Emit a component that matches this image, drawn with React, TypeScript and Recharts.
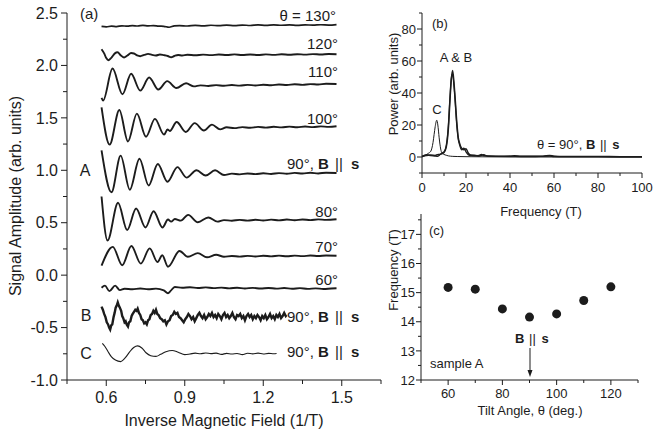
import React from 'react';
import { LineChart, Line, XAxis, YAxis, ScatterChart, Scatter } from 'recharts';

const FONT = '"Liberation Sans", Arial, Helvetica, sans-serif';
const INK = '#1c1c1c';
const W = 653;
const H = 435;

type Pt = { x: number; y: number };
const toPts = (arr: number[][]): Pt[] => arr.map(([x, y]) => ({ x, y }));

// ---------- Panel (a): signal traces (x = inverse field 1/T, y = amplitude) ----------
const trace130 = toPts([[0.582,2.372],[0.60,2.368],[0.62,2.375],[0.64,2.371],[0.66,2.378],[0.68,2.374],[0.70,2.380],[0.72,2.376],[0.74,2.382],[0.76,2.377],[0.78,2.380],[0.80,2.375],[0.82,2.373],[0.84,2.364],[0.86,2.377],[0.88,2.380],[0.91,2.376],[0.94,2.382],[0.97,2.378],[1.00,2.383],[1.03,2.379],[1.06,2.384],[1.09,2.380],[1.12,2.385],[1.15,2.381],[1.18,2.386],[1.21,2.382],[1.24,2.387],[1.27,2.383],[1.30,2.386],[1.33,2.382],[1.36,2.387],[1.39,2.384],[1.42,2.388],[1.45,2.385],[1.48,2.390]]);
const trace120 = toPts([[0.582,2.155],[0.592,2.115],[0.600,2.070],[0.609,2.050],[0.620,2.075],[0.633,2.115],[0.643,2.125],[0.656,2.095],[0.668,2.075],[0.681,2.095],[0.695,2.118],[0.706,2.114],[0.718,2.095],[0.730,2.088],[0.745,2.100],[0.760,2.110],[0.775,2.100],[0.790,2.095],[0.805,2.104],[0.820,2.098],[0.835,2.090],[0.848,2.078],[0.860,2.090],[0.875,2.100],[0.890,2.095],[0.910,2.102],[0.940,2.097],[0.970,2.103],[1.00,2.098],[1.03,2.104],[1.06,2.099],[1.09,2.105],[1.12,2.100],[1.15,2.104],[1.18,2.100],[1.21,2.105],[1.24,2.101],[1.27,2.106],[1.30,2.102],[1.33,2.107],[1.36,2.103],[1.39,2.108],[1.42,2.104],[1.45,2.109],[1.48,2.107]]);
const trace110 = toPts([[0.582,1.690],[0.588,1.665],[0.624,1.970],[0.662,1.725],[0.695,1.920],[0.730,1.760],[0.764,1.885],[0.799,1.770],[0.833,1.850],[0.868,1.785],[0.905,1.830],[0.935,1.800],[0.96,1.810],[0.99,1.804],[1.02,1.812],[1.05,1.806],[1.08,1.813],[1.11,1.807],[1.14,1.815],[1.17,1.809],[1.20,1.816],[1.23,1.811],[1.26,1.818],[1.29,1.813],[1.32,1.820],[1.35,1.815],[1.38,1.822],[1.41,1.818],[1.44,1.825],[1.48,1.823]]);
const trace100 = toPts([[0.582,1.600],[0.613,1.245],[0.650,1.575],[0.683,1.275],[0.717,1.540],[0.752,1.320],[0.786,1.490],[0.821,1.340],[0.834,1.390],[0.843,1.375],[0.869,1.460],[0.904,1.365],[0.938,1.450],[0.973,1.380],[1.004,1.435],[1.035,1.390],[1.06,1.410],[1.09,1.402],[1.12,1.412],[1.15,1.405],[1.18,1.414],[1.21,1.407],[1.24,1.415],[1.27,1.409],[1.30,1.416],[1.33,1.410],[1.36,1.417],[1.39,1.412],[1.42,1.419],[1.45,1.414],[1.48,1.420]]);
const traceA90 = toPts([[0.582,1.190],[0.620,0.790],[0.655,1.140],[0.690,0.815],[0.727,1.110],[0.762,0.855],[0.797,1.060],[0.834,0.890],[0.872,1.030],[0.907,0.930],[0.945,1.000],[0.980,0.950],[1.016,1.000],[1.050,0.955],[1.08,0.968],[1.11,0.961],[1.14,0.970],[1.17,0.963],[1.20,0.972],[1.23,0.965],[1.26,0.973],[1.29,0.967],[1.32,0.975],[1.35,0.969],[1.38,0.976],[1.41,0.970],[1.44,0.977],[1.48,0.974]]);
const trace80 = toPts([[0.582,0.750],[0.605,0.330],[0.645,0.690],[0.680,0.430],[0.714,0.635],[0.750,0.455],[0.781,0.610],[0.815,0.455],[0.836,0.530],[0.848,0.510],[0.862,0.535],[0.885,0.520],[0.913,0.575],[0.950,0.505],[0.990,0.550],[1.025,0.510],[1.05,0.525],[1.08,0.519],[1.11,0.527],[1.14,0.520],[1.17,0.528],[1.20,0.521],[1.23,0.529],[1.26,0.522],[1.29,0.530],[1.32,0.524],[1.35,0.531],[1.38,0.525],[1.41,0.532],[1.44,0.527],[1.48,0.533]]);
const trace70 = toPts([[0.582,0.090],[0.625,0.270],[0.661,0.095],[0.696,0.278],[0.732,0.110],[0.766,0.255],[0.796,0.125],[0.814,0.190],[0.836,0.080],[0.880,0.230],[0.912,0.175],[0.950,0.210],[0.985,0.170],[1.020,0.195],[1.050,0.175],[1.08,0.183],[1.11,0.177],[1.14,0.184],[1.17,0.178],[1.20,0.185],[1.23,0.179],[1.26,0.186],[1.29,0.180],[1.32,0.186],[1.35,0.181],[1.38,0.187],[1.41,0.182],[1.44,0.188],[1.48,0.185]]);
const trace60 = toPts([[0.582,-0.120],[0.595,-0.100],[0.612,-0.152],[0.634,-0.100],[0.652,-0.143],[0.670,-0.130],[0.700,-0.135],[0.730,-0.127],[0.760,-0.134],[0.790,-0.129],[0.820,-0.145],[0.836,-0.172],[0.846,-0.150],[0.862,-0.113],[0.890,-0.120],[0.920,-0.116],[0.950,-0.123],[0.980,-0.117],[1.01,-0.124],[1.04,-0.119],[1.07,-0.126],[1.10,-0.120],[1.13,-0.127],[1.16,-0.121],[1.19,-0.128],[1.22,-0.122],[1.25,-0.129],[1.28,-0.123],[1.31,-0.130],[1.34,-0.124],[1.37,-0.131],[1.40,-0.126],[1.43,-0.132],[1.46,-0.127],[1.48,-0.125]]);
const traceB90 = toPts([[0.582,-0.30],[0.587,-0.33],[0.592,-0.37],[0.597,-0.40],[0.602,-0.45],[0.607,-0.47],[0.611,-0.50],[0.615,-0.52],[0.619,-0.48],[0.623,-0.47],[0.628,-0.40],[0.632,-0.36],[0.636,-0.31],[0.640,-0.29],[0.644,-0.26],[0.648,-0.29],[0.652,-0.31],[0.657,-0.34],[0.661,-0.39],[0.665,-0.41],[0.670,-0.45],[0.674,-0.44],[0.678,-0.47],[0.683,-0.49],[0.687,-0.45],[0.692,-0.44],[0.697,-0.39],[0.701,-0.37],[0.706,-0.35],[0.711,-0.33],[0.716,-0.34],[0.720,-0.32],[0.725,-0.36],[0.730,-0.38],[0.735,-0.42],[0.740,-0.43],[0.745,-0.46],[0.750,-0.45],[0.755,-0.47],[0.760,-0.43],[0.765,-0.42],[0.770,-0.38],[0.775,-0.37],[0.780,-0.34],[0.785,-0.36],[0.790,-0.33],[0.795,-0.37],[0.800,-0.38],[0.806,-0.41],[0.812,-0.42],[0.818,-0.44],[0.824,-0.43],[0.830,-0.47],[0.836,-0.44],[0.842,-0.43],[0.848,-0.39],[0.854,-0.38],[0.860,-0.35],[0.866,-0.37],[0.872,-0.36],[0.878,-0.40],[0.884,-0.41],[0.890,-0.43],[0.896,-0.45],[0.902,-0.42],[0.908,-0.40],[0.914,-0.37],[0.920,-0.39],[0.926,-0.42],[0.932,-0.40],[0.938,-0.44],[0.944,-0.41],[0.950,-0.38],[0.956,-0.36],[0.962,-0.39],[0.968,-0.41],[0.974,-0.38],[0.980,-0.42],[0.986,-0.40],[0.992,-0.37],[0.998,-0.39],[1.004,-0.36],[1.010,-0.40],[1.016,-0.38],[1.022,-0.41],[1.028,-0.37],[1.034,-0.39],[1.040,-0.42],[1.046,-0.38],[1.052,-0.36],[1.058,-0.40],[1.064,-0.38],[1.070,-0.41],[1.076,-0.39],[1.082,-0.36],[1.088,-0.40],[1.094,-0.42],[1.100,-0.38],[1.106,-0.39],[1.112,-0.37],[1.118,-0.41],[1.124,-0.39],[1.130,-0.43],[1.136,-0.39],[1.142,-0.37],[1.148,-0.40],[1.154,-0.38],[1.160,-0.42],[1.166,-0.39],[1.172,-0.41],[1.178,-0.38],[1.184,-0.40],[1.190,-0.43],[1.196,-0.39],[1.202,-0.41],[1.208,-0.38],[1.214,-0.42],[1.220,-0.40],[1.226,-0.37],[1.232,-0.41],[1.238,-0.39],[1.244,-0.42],[1.250,-0.38],[1.256,-0.40],[1.262,-0.37],[1.268,-0.41],[1.274,-0.39],[1.280,-0.36],[1.286,-0.39],[1.289,-0.38]]);
const traceC90 = toPts([[0.585,-0.650],[0.595,-0.680],[0.607,-0.730],[0.620,-0.780],[0.635,-0.810],[0.655,-0.825],[0.672,-0.790],[0.690,-0.730],[0.705,-0.690],[0.720,-0.675],[0.736,-0.695],[0.752,-0.740],[0.770,-0.768],[0.790,-0.775],[0.808,-0.755],[0.828,-0.730],[0.852,-0.718],[0.875,-0.735],[0.900,-0.758],[0.920,-0.752],[0.94,-0.744],[0.96,-0.750],[0.98,-0.742],[1.00,-0.748],[1.02,-0.744],[1.04,-0.756],[1.06,-0.746],[1.08,-0.752],[1.10,-0.747],[1.12,-0.758],[1.14,-0.745],[1.16,-0.751],[1.18,-0.744],[1.20,-0.752],[1.22,-0.746],[1.24,-0.750],[1.251,-0.748]]);

// ---------- Panel (b): power spectra (x = frequency T, y = power) ----------
const specA = toPts([[0,0.5],[2,1.0],[4,1.2],[6,1.0],[7,1.4],[8,1.6],[9,2.0],[10,2.8],[11,6],[12,18],[12.7,35],[13.3,48],[13.9,54],[14.5,47],[15,38],[15.8,22],[16.5,12],[17,9],[18,5.5],[19,4.5],[20,5.2],[21,2.5],[22,1.2],[24,0.8],[26,1.0],[27,1.6],[28,0.9],[30,0.6],[35,0.5],[40,0.4],[42,0.8],[45,0.4],[50,0.4],[55,0.5],[58,1.0],[60,0.5],[65,0.3],[70,0.3],[80,0.3],[90,0.2],[100,0.2]]);
const specB = toPts([[0,0.3],[2,1.5],[4,0.8],[6,0.6],[7,0.4],[8,1.2],[9,2.4],[10,3.2],[11,7],[12,20],[12.7,37],[13.3,49],[13.9,52],[14.5,45],[15,36],[15.8,20],[16.5,11],[17,8],[18,4.5],[19,5.5],[20,3.2],[21,1.5],[22,1.0],[24,1.2],[26,0.6],[27,1.0],[28,1.4],[30,0.5],[35,0.4],[40,0.5],[45,0.3],[50,0.3],[58,0.6],[60,0.3],[70,0.2],[80,0.2],[90,0.1],[100,0.1]]);
const specC = toPts([[0,0],[1,0.5],[2,1.4],[3,2.4],[4,3.6],[5,9],[5.5,14],[6,19],[6.7,23],[7.2,20],[7.8,12],[8.5,5],[9,2.6],[10,1.6],[11,1.1],[12,0.7],[14,0.4],[16,0.3],[20,0.2],[30,0.1],[40,0],[60,0],[80,0],[100,0]]);

// ---------- Panel (c): frequency vs tilt angle ----------
const tiltAngles = [60, 70, 80, 90, 100, 110, 120];
const tiltFreqs = [15.18, 15.12, 14.44, 14.16, 14.27, 14.73, 15.2];
const tiltData = tiltAngles.map((a, i) => ({ angle: a, freq: tiltFreqs[i] }));

// ---------- Tick values ----------
const AX_TICKS = [0.45, 0.6, 0.75, 0.9, 1.05, 1.2, 1.35, 1.5, 1.65];
const AX_LABELS = [0.6, 0.9, 1.2, 1.5];
const AY_TICKS = [-1, -0.75, -0.5, -0.25, 0, 0.25, 0.5, 0.75, 1, 1.25, 1.5, 1.75, 2, 2.25, 2.5];
const AY_LABELS = [-1, -0.5, 0, 0.5, 1, 1.5, 2, 2.5];
const BX_TICKS = [0, 10, 20, 30, 40, 50, 60, 70, 80, 90, 100];
const BX_LABELS = [0, 20, 40, 60, 80, 100];
const BY_TICKS = [-10, 0, 10, 20, 30, 40, 50, 60, 70, 80, 90];
const BY_LABELS = [0, 20, 40, 60, 80];
const CX_TICKS = [50, 60, 70, 80, 90, 100, 110, 120, 130];
const CX_LABELS = [60, 80, 100, 120];
const CY_TICKS = [12, 12.5, 13, 13.5, 14, 14.5, 15, 15.5, 16, 16.5, 17, 17.5];
const CY_LABELS = [12, 13, 14, 15, 16, 17];

const isIn = (list: number[], v: number) => list.some((m) => Math.abs(m - v) < 1e-6);

function yTick(axisX: number, labels: number[], fs: number, fmt: (v: number) => string, maj: number, min: number, gap: number) {
  return (props: any) => {
    const { y, payload } = props;
    const v = payload.value;
    const major = isIn(labels, v);
    return (
      <g>
        <line x1={axisX} x2={axisX - (major ? maj : min)} y1={y} y2={y} stroke={INK} strokeWidth={1} />
        {major && (
          <text x={axisX - gap} y={y + fs * 0.36} textAnchor="end" fontSize={fs} fontFamily={FONT} fill={INK}>
            {fmt(v)}
          </text>
        )}
      </g>
    );
  };
}

function xTick(axisY: number, labels: number[], fs: number, fmt: (v: number) => string, maj: number, min: number, base: number) {
  return (props: any) => {
    const { x, payload } = props;
    const v = payload.value;
    const major = isIn(labels, v);
    return (
      <g>
        <line x1={x} x2={x} y1={axisY} y2={axisY + (major ? maj : min)} stroke={INK} strokeWidth={1} />
        {major && (
          <text x={x} y={axisY + base} textAnchor="middle" fontSize={fs} fontFamily={FONT} fill={INK}>
            {fmt(v)}
          </text>
        )}
      </g>
    );
  };
}

const layer: React.CSSProperties = { position: 'absolute', left: 0, top: 0, width: W, height: H };

const traceLine = (data: Pt[], key: string, width = 1.8, type: any = 'monotone') => (
  <Line
    key={key}
    data={data}
    dataKey="y"
    type={type}
    stroke={INK}
    strokeWidth={width}
    dot={false}
    activeDot={false}
    isAnimationActive={false}
  />
);

function BparS({ gap1, gap2 }: { gap1: number; gap2: number }) {
  return (
    <>
      <tspan fontWeight="bold" fill={INK}>B</tspan>
      <tspan dx={gap1} fill={INK}> ||</tspan>
      <tspan dx={gap2} fontWeight="bold" fill={INK}> s</tspan>
    </>
  );
}

export default function App() {
  return (
    <div style={{ position: 'absolute', left: 0, top: 0, width: W, height: H, background: '#fff', fontFamily: FONT }}>
      {/* Panel (a) */}
      <div style={layer}>
        <LineChart width={W} height={H} margin={{ top: 13, right: W - 381, left: 0, bottom: 0 }}>
          <XAxis
            type="number"
            dataKey="x"
            domain={[0.45, 1.65]}
            ticks={AX_TICKS}
            interval={0}
            height={55}
            stroke={INK}
            tickLine={false}
            tick={xTick(380, AX_LABELS, 16, (v) => v.toFixed(1), 6, 4, 23)}
          />
          <YAxis
            type="number"
            dataKey="y"
            domain={[-1, 2.5]}
            ticks={AY_TICKS}
            interval={0}
            width={67}
            stroke={INK}
            tickLine={false}
            tick={yTick(67, AY_LABELS, 16, (v) => v.toFixed(1), 6, 4, 9)}
          />
          {traceLine(trace130, 't130', 1.7)}
          {traceLine(trace120, 't120', 1.9)}
          {traceLine(trace110, 't110', 1.9)}
          {traceLine(trace100, 't100', 1.9)}
          {traceLine(traceA90, 'tA', 1.9)}
          {traceLine(trace80, 't80', 1.9)}
          {traceLine(trace70, 't70', 1.9)}
          {traceLine(trace60, 't60', 1.9)}
          {traceLine(traceB90, 'tB', 2.4, 'linear')}
          {traceLine(traceC90, 'tC', 1.1, 'monotone')}
        </LineChart>
      </div>

      {/* Panel (b) */}
      <div style={layer}>
        <LineChart width={W} height={H} margin={{ top: 13, right: 11, left: 360, bottom: 0 }}>
          <XAxis
            type="number"
            dataKey="x"
            domain={[0, 100]}
            ticks={BX_TICKS}
            interval={0}
            height={H - 173}
            stroke={INK}
            tickLine={false}
            tick={xTick(173, BX_LABELS, 13, (v) => String(v), 5, 3, 19)}
          />
          <YAxis
            type="number"
            dataKey="y"
            domain={[-10, 90]}
            ticks={BY_TICKS}
            interval={0}
            width={62}
            stroke={INK}
            tickLine={false}
            tick={yTick(422, BY_LABELS, 13, (v) => String(v), 5, 3, 6)}
          />
          {traceLine(specC, 'sC', 1.0)}
          {traceLine(specB, 'sB', 1.3)}
          {traceLine(specA, 'sA', 1.5)}
        </LineChart>
      </div>

      {/* Panel (c) */}
      <div style={layer}>
        <ScatterChart width={W} height={H} margin={{ top: 214, right: 15, left: 360, bottom: 0 }}>
          <XAxis
            type="number"
            dataKey="angle"
            domain={[50, 130]}
            ticks={CX_TICKS}
            interval={0}
            height={55}
            stroke={INK}
            tickLine={false}
            tick={xTick(380, CX_LABELS, 13, (v) => String(v), 5, 3, 18)}
          />
          <YAxis
            type="number"
            dataKey="freq"
            domain={[12, 17.7]}
            ticks={CY_TICKS}
            interval={0}
            width={61}
            stroke={INK}
            tickLine={false}
            tick={yTick(421, CY_LABELS, 13, (v) => String(v), 5, 3, 6)}
          />
          <Scatter
            data={tiltData}
            isAnimationActive={false}
            shape={(p: any) => <circle cx={p.cx} cy={p.cy} r={4.5} fill={INK} />}
          />
        </ScatterChart>
      </div>

      {/* Annotations and axis titles */}
      <svg width={W} height={H} style={{ ...layer, pointerEvents: 'none' }} fontFamily={FONT} fill={INK}>
        {/* panel (a) */}
        <text x={80} y={19} fontSize={15} fill={INK}>(a)</text>
        <text x={336} y={21} fontSize={15} textAnchor="end" fill={INK}>θ = 130°</text>
        <text x={338} y={49} fontSize={15} textAnchor="end" fill={INK}>120°</text>
        <text x={338} y={77} fontSize={15} textAnchor="end" fill={INK}>110°</text>
        <text x={338} y={124} fontSize={15} textAnchor="end" fill={INK}>100°</text>
        <text x={287} y={169} fontSize={15} fill={INK}>90°, <BparS gap1={2} gap2={4} /></text>
        <text x={338} y={217} fontSize={15} textAnchor="end" fill={INK}>80°</text>
        <text x={338} y={252} fontSize={15} textAnchor="end" fill={INK}>70°</text>
        <text x={338} y={285} fontSize={15} textAnchor="end" fill={INK}>60°</text>
        <text x={287} y={322} fontSize={15} fill={INK}>90°, <BparS gap1={2} gap2={4} /></text>
        <text x={287} y={357} fontSize={15} fill={INK}>90°, <BparS gap1={2} gap2={4} /></text>
        <text x={85} y={176} fontSize={16} textAnchor="middle" fill={INK}>A</text>
        <text x={86} y={321} fontSize={16} textAnchor="middle" fill={INK}>B</text>
        <text x={86} y={359} fontSize={16} textAnchor="middle" fill={INK}>C</text>
        <text x={224} y={426} fontSize={16} textAnchor="middle" fill={INK}>Inverse Magnetic Field (1/T)</text>
        <text x={21} y={196} fontSize={16} textAnchor="middle" fill={INK} transform="rotate(-90 21 196)">Signal Amplitude (arb. units)</text>

        {/* panel (b) */}
        <text x={432} y={28} fontSize={13} fill={INK}>(b)</text>
        <text x={456} y={62} fontSize={13} textAnchor="middle" fill={INK}>A &amp; B</text>
        <text x={437} y={114} fontSize={13} textAnchor="middle" fill={INK}>C</text>
        <text x={537} y={149} fontSize={13} fill={INK}>θ = 90°, <BparS gap1={1} gap2={2} /></text>
        <text x={541} y={216} fontSize={13} textAnchor="middle" fill={INK}>Frequency (T)</text>
        <text x={398} y={84} fontSize={13} textAnchor="middle" fill={INK} transform="rotate(-90 398 84)">Power (arb. units)</text>

        {/* panel (c) */}
        <text x={429} y={235} fontSize={13} fill={INK}>(c)</text>
        <text x={430} y={368} fontSize={13} fill={INK}>sample A</text>
        <text x={515} y={343} fontSize={13} fill={INK}><BparS gap1={1} gap2={2} /></text>
        <line x1={530} y1={348} x2={530} y2={372} stroke={INK} strokeWidth={1} />
        <path d="M527.5,370 L532.5,370 L530,377 Z" fill={INK} />
        <text x={530} y={415} fontSize={13} textAnchor="middle" fill={INK}>Tilt Angle, θ (deg.)</text>
        <text x={398} y={270} fontSize={13} textAnchor="middle" fill={INK} transform="rotate(-90 398 270)">Frequency (T)</text>
      </svg>
    </div>
  );
}
